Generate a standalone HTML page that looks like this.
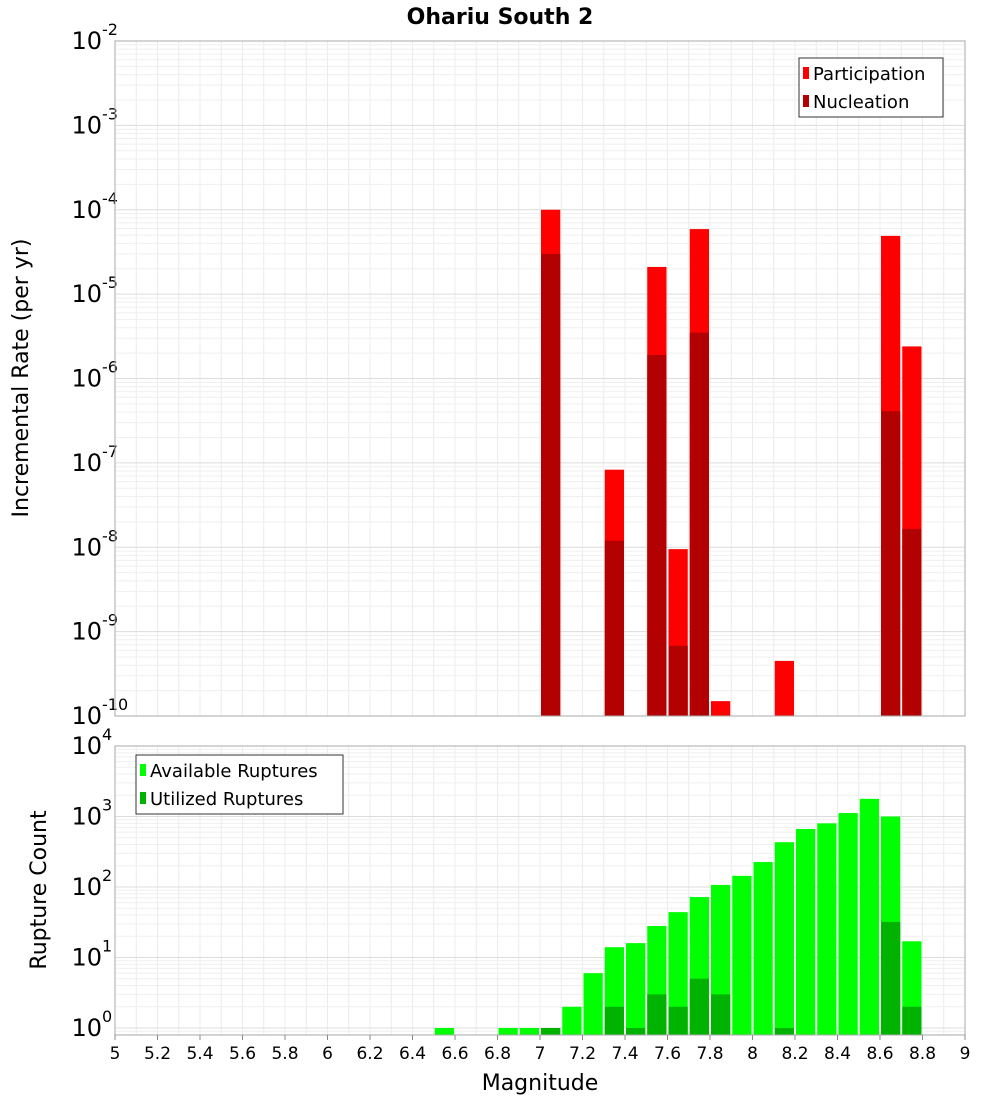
<!DOCTYPE html>
<html><head><meta charset="utf-8"><style>
body{margin:0;background:#fff;}
svg{display:block;font-family:"DejaVu Sans","Liberation Sans",sans-serif;}
</style></head><body>
<svg id="c" width="1000" height="1100" xmlns="http://www.w3.org/2000/svg">
<text x="500" y="24" text-anchor="middle" font-size="22" font-weight="bold">Ohariu South 2</text>
<text transform="translate(28,378) rotate(-90)" text-anchor="middle" font-size="22">Incremental Rate (per yr)</text>
<text transform="translate(46,890) rotate(-90)" text-anchor="middle" font-size="22">Rupture Count</text>
<text x="540" y="1090" text-anchor="middle" font-size="22">Magnitude</text>
<g id="gtop"></g><g id="gbot"></g>
<g>
<rect x="799" y="58" width="144" height="59" fill="#fff" stroke="#333"/>
<rect x="803" y="67" width="6" height="12" fill="#ff0000"/>
<text x="813" y="80" font-size="18">Participation</text>
<rect x="803" y="95" width="6" height="12" fill="#b30000"/>
<text x="813" y="108" font-size="18">Nucleation</text>
</g>
<g>
<rect x="136" y="755" width="207" height="59" fill="#fff" stroke="#333"/>
<rect x="140" y="764" width="6" height="12" fill="#00ff00"/>
<text x="150" y="777" font-size="18">Available Ruptures</text>
<rect x="140" y="792" width="6" height="12" fill="#00b300"/>
<text x="150" y="805" font-size="18">Utilized Ruptures</text>
</g>
</svg>
<script>
const topMags=[7.0,7.3,7.5,7.6,7.7,7.8,8.1,8.6,8.7];
const participation=[1e-4,8.3e-8,2.1e-5,9.5e-9,5.9e-5,1.5e-10,4.5e-10,4.9e-5,2.4e-6];
const nucleation=[3e-5,1.2e-8,1.9e-6,6.8e-10,3.5e-6,0,0,4.1e-7,1.65e-8];
const botMags=[6.5,6.8,6.9,7.0,7.1,7.2,7.3,7.4,7.5,7.6,7.7,7.8,7.9,8.0,8.1,8.2,8.3,8.4,8.5,8.6,8.7];
const available=[1,1,1,1,2,6,14,16,28,44,72,107,144,226,432,665,800,1120,1780,1000,17];
const utilized=[0,0,0,1,0,0,2,1,3,2,5,3,0,0,1,0,0,0,0,32,2];
const xTicks=[5,5.2,5.4,5.6,5.8,6,6.2,6.4,6.6,6.8,7,7.2,7.4,7.6,7.8,8,8.2,8.4,8.6,8.8,9];
const topExps=[-2,-3,-4,-5,-6,-7,-8,-9,-10];
const botExps=[4,3,2,1,0];
const NS="http://www.w3.org/2000/svg";
const X0=115,X1=965;
const xs=m=>X0+(m-5)/4*(X1-X0);
const yTop=v=>41+(-2-Math.log10(v))*84.375;
const yBot=v=>1028-Math.log10(v)*70.5;
function mk(p,t,a){const e=document.createElementNS(NS,t);for(const k in a)e.setAttribute(k,a[k]);p.appendChild(e);return e;}
function panel(g,y0,y1,yf,lo,hi,exps,name){
  mk(g,'rect',{x:X0,y:y0,width:X1-X0,height:y1-y0,fill:'#fff'});
  for(let i=0;i<=40;i++){const m=5+i*0.1;mk(g,'line',{x1:xs(m),x2:xs(m),y1:y0,y2:y1,stroke:'#ececec'});}
  for(let e=lo;e<hi;e++)for(let k=1;k<10;k++){const y=yf(k*Math.pow(10,e));if(y<y0||y>y1)continue;
    mk(g,'line',{x1:X0,x2:X1,y1:y,y2:y,stroke:k==1?'#dcdcdc':'#efefef'});}
  exps.forEach(e=>{const y=yf(Math.pow(10,e));const t=mk(g,'text',{x:102,y:y+8,'text-anchor':'end','font-size':24});
    
    
    t.textContent='10';const s=mk(g,'text',{x:102,y:y-6,'font-size':16});s.textContent=String(e);
    
    });
}
const gTop=document.getElementById('gtop'),gBot=document.getElementById('gbot');
panel(gTop,41,716,yTop,-10,-2,topExps,'top-y');
panel(gBot,746,1035,yBot,-1,4,botExps,'bottom-y');
const bw=(X1-X0)/40-2;
topMags.forEach((m,i)=>{
  const x=xs(m)+1;
  const r=mk(gTop,'rect',{x:x,y:yTop(participation[i]),width:bw,height:716-yTop(participation[i]),fill:'#ff0000'});
  
  
  if(nucleation[i]>0){const n=mk(gTop,'rect',{x:x,y:yTop(nucleation[i]),width:bw,height:716-yTop(nucleation[i]),fill:'#b30000'});
  
  }
});
botMags.forEach((m,i)=>{
  const x=xs(m)+1;
  const r=mk(gBot,'rect',{x:x,y:yBot(available[i]),width:bw,height:1035-yBot(available[i]),fill:'#00ff00'});
  
  
  if(utilized[i]>0){const n=mk(gBot,'rect',{x:x,y:yBot(utilized[i]),width:bw,height:1035-yBot(utilized[i]),fill:'#00b300'});
  
  }
});
mk(gTop,'rect',{x:X0,y:41,width:X1-X0,height:675,fill:'none',stroke:'#aaa'});
mk(gBot,'rect',{x:X0,y:746,width:X1-X0,height:289,fill:'none',stroke:'#aaa'});
xTicks.forEach(v=>{const x=xs(v);mk(gBot,'line',{x1:x,x2:x,y1:1035,y2:1040,stroke:'#888'});
  const t=mk(gBot,'text',{x:x,y:1059,'text-anchor':'middle','font-size':17});t.textContent=String(v);
  
  });
</script>
</body></html>
